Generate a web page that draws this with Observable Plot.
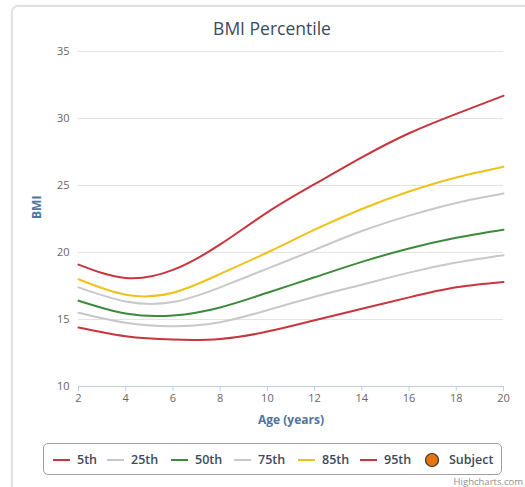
<!DOCTYPE html>
<html><head><meta charset="utf-8">
<script src="https://cdn.jsdelivr.net/npm/d3@7"></script>
<script src="https://cdn.jsdelivr.net/npm/@observablehq/plot@0.6"></script>
<style>
body{margin:0;background:#fff;font-family:"Open Sans",sans-serif;}
#wrap{position:relative;width:525px;height:487px;overflow:hidden;background:#fff;}
#frame{position:absolute;left:11px;top:5px;width:540px;height:520px;border:2px solid #e2e2e2;border-radius:7px;box-sizing:border-box;box-shadow:0 0 2px #eee;}
#chart{position:absolute;left:0;top:0;}
#title{position:absolute;left:0;width:544px;top:16px;text-align:center;font-size:17.5px;color:#3b4a5c;line-height:24px;}
#legend{position:absolute;left:43px;top:443px;width:459px;height:32px;box-sizing:border-box;border:1px solid #a0a0a0;border-radius:5px;font-size:12.5px;font-weight:600;color:#3d4a58;}
.item{position:absolute;top:7px;display:flex;align-items:center;white-space:nowrap;}
#credit{position:absolute;right:2px;top:476px;font-size:9.5px;line-height:11px;color:#909090;}
</style>
</head><body>
<div id="wrap">
  <div id="frame"></div>
  <div id="chart"></div>
  <div id="title">BMI Percentile</div>
  <div id="legend"></div>
  <div id="credit">Highcharts.com</div>
</div>
<script>
const ages = [2,4,6,8,10,12,14,16,18,20];
const p5  = [14.4,13.75,13.5,13.55,14.1,14.95,15.8,16.65,17.4,17.8];
const p25 = [15.5,14.75,14.5,14.8,15.7,16.7,17.6,18.5,19.25,19.8];
const p50 = [16.4,15.45,15.3,15.9,17.0,18.15,19.3,20.3,21.1,21.7];
const p75 = [17.4,16.35,16.3,17.4,18.8,20.2,21.6,22.75,23.7,24.4];
const p85 = [18.0,16.85,17.0,18.4,20.0,21.7,23.25,24.55,25.6,26.4];
const p95 = [19.1,18.1,18.7,20.6,23.0,25.1,27.1,28.9,30.35,31.7];
const seriesNames = ["5th","25th","50th","75th","85th","95th","Subject"];
const seriesColors = ["#c8353c","#c8c8c8","#3d8a3d","#c8c8c8","#eec21a","#c8353c","#e8740f"];
const xTicks = [2,4,6,8,10,12,14,16,18,20];
const yTicks = [10,15,20,25,30,35];

const seriesValues = [p5,p25,p50,p75,p85,p95];
const lineMarks = seriesValues.map((vals,i) => {
  const rows = ages.map((a,j)=>({age:a, bmi:vals[j]}));
  return Plot.line(rows,{x:"age",y:"bmi",stroke:seriesColors[i],strokeWidth:2,curve:"natural"});
});

const chart = Plot.plot({
  width:525, height:487,
  marginLeft:78, marginRight:22, marginTop:51, marginBottom:101,
  style:{fontFamily:"Open Sans, sans-serif", fontSize:"11px", background:"transparent"},
  x:{domain:[2,20]},
  y:{domain:[10,35]},
  marks:[
    Plot.gridY(yTicks.filter(t=>t>10),{stroke:"#e3e3e3",strokeOpacity:1}),
    Plot.ruleY([10],{stroke:"#c0d0e0"}),
    Plot.axisX(xTicks,{tickSize:5,tickPadding:3,stroke:"#c0d0e0",fill:"#666",label:null}),
    Plot.axisY(yTicks,{tickSize:0,tickPadding:9,fill:"#666",label:null}),
    ...lineMarks,
    Plot.text(["BMI"],{text:d=>d,frameAnchor:"left",dx:-41,rotate:-90,fill:"#4d759e",fontWeight:"bold",fontSize:12}),
    Plot.text(["Age (years)"],{text:d=>d,frameAnchor:"bottom",dy:37,fill:"#4d759e",fontWeight:"bold",fontSize:12})
  ]
});
document.getElementById("chart").appendChild(chart);

// legend
const legendX = [9,63,127,190,254,316,380];
const leg = document.getElementById("legend");
seriesNames.forEach((name,i)=>{
  const it = document.createElement("div");
  it.className="item";
  it.style.left = legendX[i]+"px";
  const sym = i<6
    ? `<svg width="17" height="14" style="margin-right:7px"><line x1="0" x2="17" y1="7" y2="7" stroke="${seriesColors[i]}" stroke-width="2"/></svg>`
    : `<svg width="16" height="16" style="margin-right:9px"><circle cx="8" cy="8" r="6.5" fill="${seriesColors[i]}" stroke="#333" stroke-width="1.2"/></svg>`;
  it.innerHTML = sym + `<span>${name}</span>`;
  leg.appendChild(it);
});
</script>
</body></html>
